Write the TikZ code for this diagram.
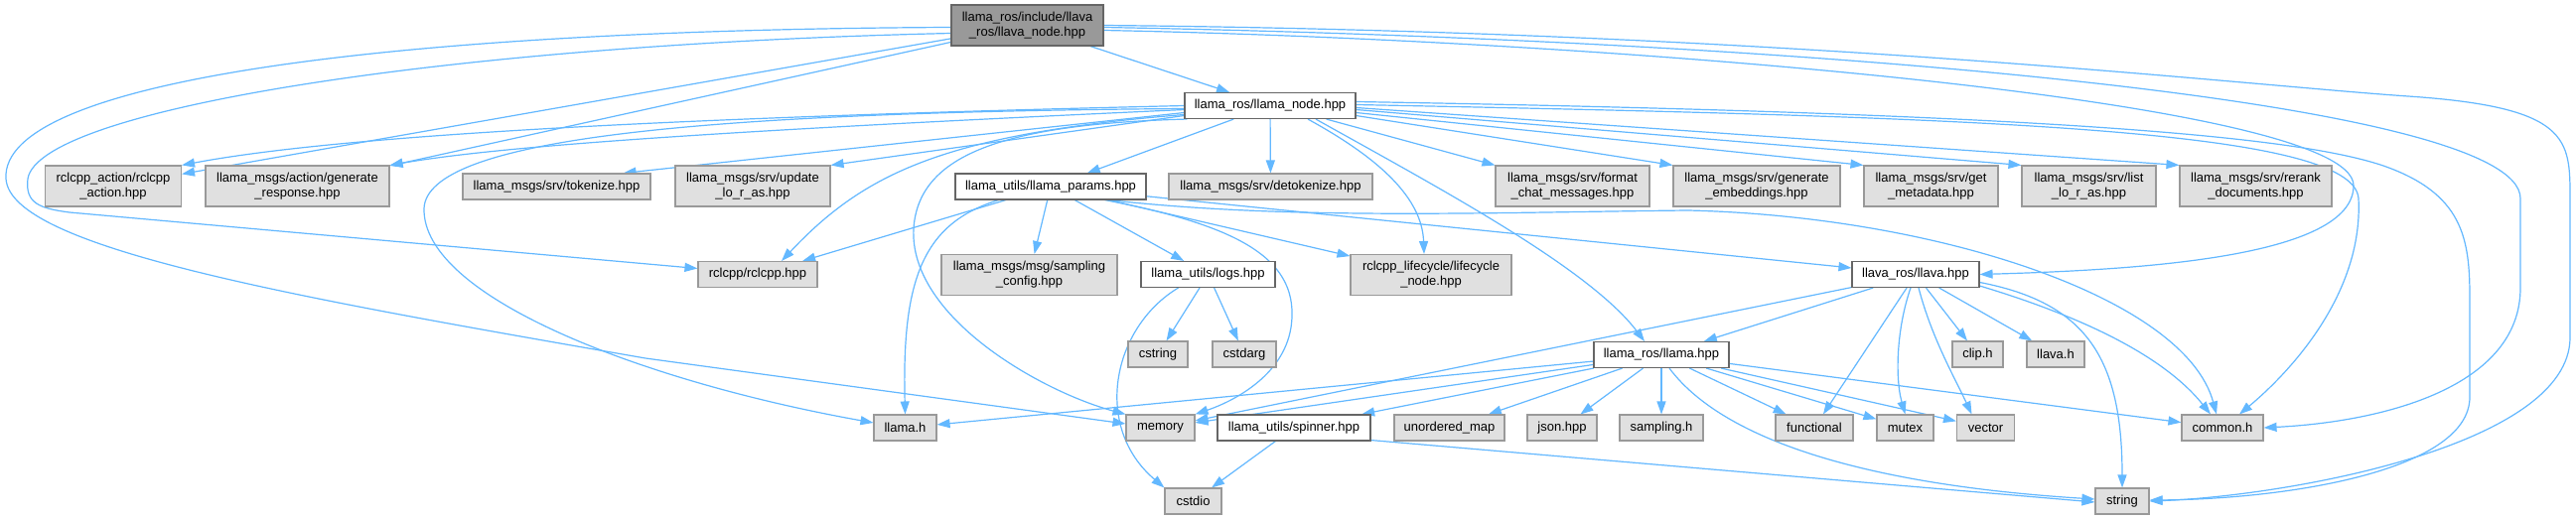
\documentclass[tikz,border=0pt]{standalone}
\usepackage{fontspec}
\setmainfont{Liberation Sans}
\usetikzlibrary{arrows.meta,calc}
\definecolor{edgeblue}{HTML}{63B8FF}
\definecolor{gfill}{HTML}{E0E0E0}
\definecolor{gborder}{HTML}{999999}
\definecolor{dborder}{HTML}{666666}
\definecolor{topfill}{HTML}{999999}
\pgfdeclarelayer{bg}
\pgfsetlayers{bg,main}
\begin{document}
\begin{tikzpicture}[x=1pt,y=-1pt,
 box/.style={draw, line width=1.1pt, inner sep=0pt, align=center, font=\fontsize{13}{15}\selectfont, minimum height=26pt},
 gbox/.style={box, fill=gfill, draw=gborder},
 wbox/.style={box, fill=white, draw=dborder},
 tbox/.style={box, fill=topfill, draw=dborder},
 dep/.style={draw=edgeblue, line width=1.2pt, -{Triangle[length=13pt,width=9pt]}}]
\useasboundingbox (0,0) rectangle (2594,523);
\begin{pgfonlayer}{bg}
\fill[white] (0,0) rectangle (2594,523);
\end{pgfonlayer}
% nodes
\node[tbox, minimum width=153pt, minimum height=41pt] (N0) at (1034.5,25.5) {llama\_ros/include/llava\\\_ros/llava\_node.hpp};
\node[wbox, minimum width=172pt] (ln) at (1279,106.5) {llama\_ros/llama\_node.hpp};
\node[gbox, minimum width=137pt, minimum height=41pt] (ra) at (114,187.5) {rclcpp\_action/rclcpp\\\_action.hpp};
\node[gbox, minimum width=185pt, minimum height=41pt] (gr) at (299.5,187.5) {llama\_msgs/action/generate\\\_response.hpp};
\node[gbox, minimum width=189pt] (tk) at (560.5,188) {llama\_msgs/srv/tokenize.hpp};
\node[gbox, minimum width=156pt, minimum height=41pt] (ul) at (758,187.5) {llama\_msgs/srv/update\\\_lo\_r\_as.hpp};
\node[wbox, minimum width=192pt] (lp) at (1058,188) {llama\_utils/llama\_params.hpp};
\node[gbox, minimum width=205pt] (dt) at (1279.5,188) {llama\_msgs/srv/detokenize.hpp};
\node[gbox, minimum width=155pt, minimum height=41pt] (fc) at (1583.5,187.5) {llama\_msgs/srv/format\\\_chat\_messages.hpp};
\node[gbox, minimum width=168pt, minimum height=41pt] (ge) at (1769,187.5) {llama\_msgs/srv/generate\\\_embeddings.hpp};
\node[gbox, minimum width=135pt, minimum height=41pt] (gm) at (1944.5,187.5) {llama\_msgs/srv/get\\\_metadata.hpp};
\node[gbox, minimum width=135pt, minimum height=41pt] (lr) at (2103.5,187.5) {llama\_msgs/srv/list\\\_lo\_r\_as.hpp};
\node[gbox, minimum width=153pt, minimum height=41pt] (rr) at (2271.5,187.5) {llama\_msgs/srv/rerank\\\_documents.hpp};
\node[gbox, minimum width=120pt] (rc) at (763,276.5) {rclcpp/rclcpp.hpp};
\node[gbox, minimum width=177pt, minimum height=41pt] (sc) at (1036.5,277) {llama\_msgs/msg/sampling\\\_config.hpp};
\node[wbox, minimum width=135pt] (lg) at (1216.5,276.5) {llama\_utils/logs.hpp};
\node[gbox, minimum width=162pt, minimum height=41pt] (lc) at (1441,277) {rclcpp\_lifecycle/lifecycle\\\_node.hpp};
\node[wbox, minimum width=128pt] (lv) at (1929,276.5) {llava\_ros/llava.hpp};
\node[gbox, minimum width=60pt] (cstr) at (1166,357) {cstring};
\node[gbox, minimum width=64pt] (carg) at (1253,357) {cstdarg};
\node[wbox, minimum width=136pt] (lh) at (1673,357.5) {llama\_ros/llama.hpp};
\node[gbox, minimum width=51pt] (clip) at (1991.5,357) {clip.h};
\node[gbox, minimum width=58pt] (llvh) at (2070,357) {llava.h};
\node[gbox, minimum width=63pt] (lmh) at (911.5,431) {llama.h};
\node[gbox, minimum width=69pt] (mem) at (1168.5,431) {memory};
\node[wbox, minimum width=154pt] (sp) at (1303,431) {llama\_utils/spinner.hpp};
\node[gbox, minimum width=111pt] (um) at (1459.5,431) {unordered\_map};
\node[gbox, minimum width=70pt] (js) at (1573,431) {json.hpp};
\node[gbox, minimum width=84pt] (smp) at (1673,431) {sampling.h};
\node[gbox, minimum width=78pt] (fn) at (1827,431) {functional};
\node[gbox, minimum width=57pt] (mu) at (1918.5,431) {mutex};
\node[gbox, minimum width=58pt] (vec) at (1999.5,431) {vector};
\node[gbox, minimum width=82pt] (com) at (2238,431) {common.h};
\node[gbox, minimum width=57pt] (cio) at (1201.5,505) {cstdio};
\node[gbox, minimum width=54pt] (str) at (2137,505) {string};
% edges
\begin{pgfonlayer}{bg}
% from llava_node.hpp
\draw[dep] (N0) -- (ln);
\draw[dep] (N0) -- (ra);
\draw[dep] (N0) -- (gr);
\draw[dep] ($(N0.west)+(0,8)$) .. controls (450,45) and (40,110) .. (28,180) .. controls (25,205) and (40,210) .. (70,214) -- ($(rc.west)+(0,-6)$);
\draw[dep] ($(N0.west)+(0,2)$) .. controls (400,30) and (0,80) .. (6,180) .. controls (10,250) and (300,300) .. (650,361) -- ($(mem.west)+(0,-4)$);
\draw[dep] ($(N0.east)+(0,5)$) .. controls (1600,40) and (2370,100) .. (2370,187) .. controls (2370,260) and (2150,272) .. (lv.east);
\draw[dep] ($(N0.east)+(0,2)$) .. controls (1800,40) and (2538,100) .. (2538,200) -- (2538,290) .. controls (2538,390) and (2400,425) .. (com.east);
\draw[dep] (N0.east) .. controls (1800,32) and (2250,85) .. (2425,97) .. controls (2588,108) and (2588,140) .. (2588,200) -- (2588,340) .. controls (2588,450) and (2300,500) .. (str.east);
% from llama_node.hpp
\draw[dep] (ln.west) .. controls (700,118) and (350,135) .. (ra.north east);
\draw[dep] ($(ln.west)+(0,4)$) .. controls (700,133) and (500,148) .. (gr.north east);
\draw[dep] ($(ln.west)+(0,7)$) -- ($(tk.north east)+(-28,0)$);
\draw[dep] ($(ln.west)+(0,10)$) -- (ul.north east);
\draw[dep] (ln) -- (lp);
\draw[dep] (ln) -- (dt);
\draw[dep] ($(ln.south east)+(-30,0)$) -- (fc.north west);
\draw[dep] ($(ln.east)+(0,10)$) -- (ge.north west);
\draw[dep] ($(ln.east)+(0,7)$) -- (gm.north west);
\draw[dep] ($(ln.east)+(0,4)$) -- (lr.north west);
\draw[dep] ($(ln.east)+(0,2)$) -- (rr.north west);
\draw[dep] ($(ln.east)+(0,-1)$) .. controls (2000,118) and (2370,130) .. (2375,200) .. controls (2380,300) and (2300,380) .. ($(com.north)+(17,0)$);
\draw[dep] ($(ln.east)+(0,-4)$) .. controls (2100,115) and (2320,140) .. (2400,167) .. controls (2480,195) and (2487,240) .. (2487,300) -- (2487,400) .. controls (2487,475) and (2300,503) .. ($(str.east)+(0,-1)$);
\draw[dep] ($(ln.west)+(0,9)$) .. controls (950,135) and (870,175) .. ($(rc.north)+(24,0)$);
\draw[dep] ($(ln.west)+(0,3)$) .. controls (700,113) and (430,140) .. (427,210) .. controls (425,300) and (650,385) .. ($(lmh.west)+(0,-5)$);
\draw[dep] ($(ln.south west)+(3,0)$) .. controls (1000,125) and (925,160) .. (920,230) .. controls (915,320) and (1050,395) .. (mem.north west);
\draw[dep] ($(ln.south)+(38,0)$) .. controls (1390,160) and (1432,200) .. ($(lc.north)+(-7,0)$);
\draw[dep] ($(ln.south)+(46,0)$) .. controls (1450,190) and (1600,270) .. ($(lh.north)+(-17,0)$);
% from llama_params.hpp
\draw[dep] (lp) -- (rc);
\draw[dep] ($(lp.south west)+(44,0)$) .. controls (930,225) and (908,280) .. (lmh.north);
\draw[dep] (lp) -- (sc);
\draw[dep] (lp) -- (lg);
\draw[dep] (lp) -- (lc);
\draw[dep] (lp) -- (lv);
\draw[dep] ($(lp.south east)+(-38,0)$) .. controls (1300,222) and (1500,214) .. (1700,212) .. controls (1950,218) and (2200,300) .. ($(com.north)+(-6,0)$);
\draw[dep] ($(lp.south east)+(-42,0)$) .. controls (1250,228) and (1310,262) .. (1300,330) .. controls (1292,380) and (1240,405) .. (mem.north east);
% from llava.hpp
\draw[dep] (lv) -- (mem);
\draw[dep] (lv) -- (lh);
\draw[dep] (lv) -- (fn);
\draw[dep] ($(lv.south)+(-5,0)$) .. controls (1910,330) and (1908,380) .. (mu.north);
\draw[dep] ($(lv.south)+(3,0)$) .. controls (1945,340) and (1968,380) .. ($(vec.north)+(-14,0)$);
\draw[dep] (lv) -- (clip);
\draw[dep] (lv) -- (llvh);
\draw[dep] ($(lv.south east)+(0,-2)$) .. controls (2100,320) and (2180,360) .. ($(com.north)+(-12,0)$);
\draw[dep] ($(lv.east)+(0,8)$) .. controls (2100,305) and (2137,360) .. (str.north);
% from llama.hpp
\draw[dep] (lh) -- (lmh);
\draw[dep] (lh) -- (mem);
\draw[dep] (lh) -- (sp);
\draw[dep] (lh) -- (um);
\draw[dep] (lh) -- (js);
\draw[dep] (lh) -- (smp);
\draw[dep] (lh) -- (fn);
\draw[dep] (lh) -- (mu);
\draw[dep] (lh) -- (vec);
\draw[dep] (lh) -- (com);
\draw[dep] ($(lh.south)+(8,0)$) .. controls (1740,450) and (1900,490) .. ($(str.west)+(0,-2)$);
% from spinner.hpp
\draw[dep] (sp) -- (cio);
\draw[dep] ($(sp.south east)+(0,-1)$) -- ($(str.west)+(0,1)$);
% from logs.hpp
\draw[dep] (lg) -- (cstr);
\draw[dep] (lg) -- (carg);
\draw[dep] ($(lg.south)+(-30,0)$) .. controls (1120,330) and (1100,430) .. (cio.north west);
\end{pgfonlayer}
\end{tikzpicture}
\end{document}
